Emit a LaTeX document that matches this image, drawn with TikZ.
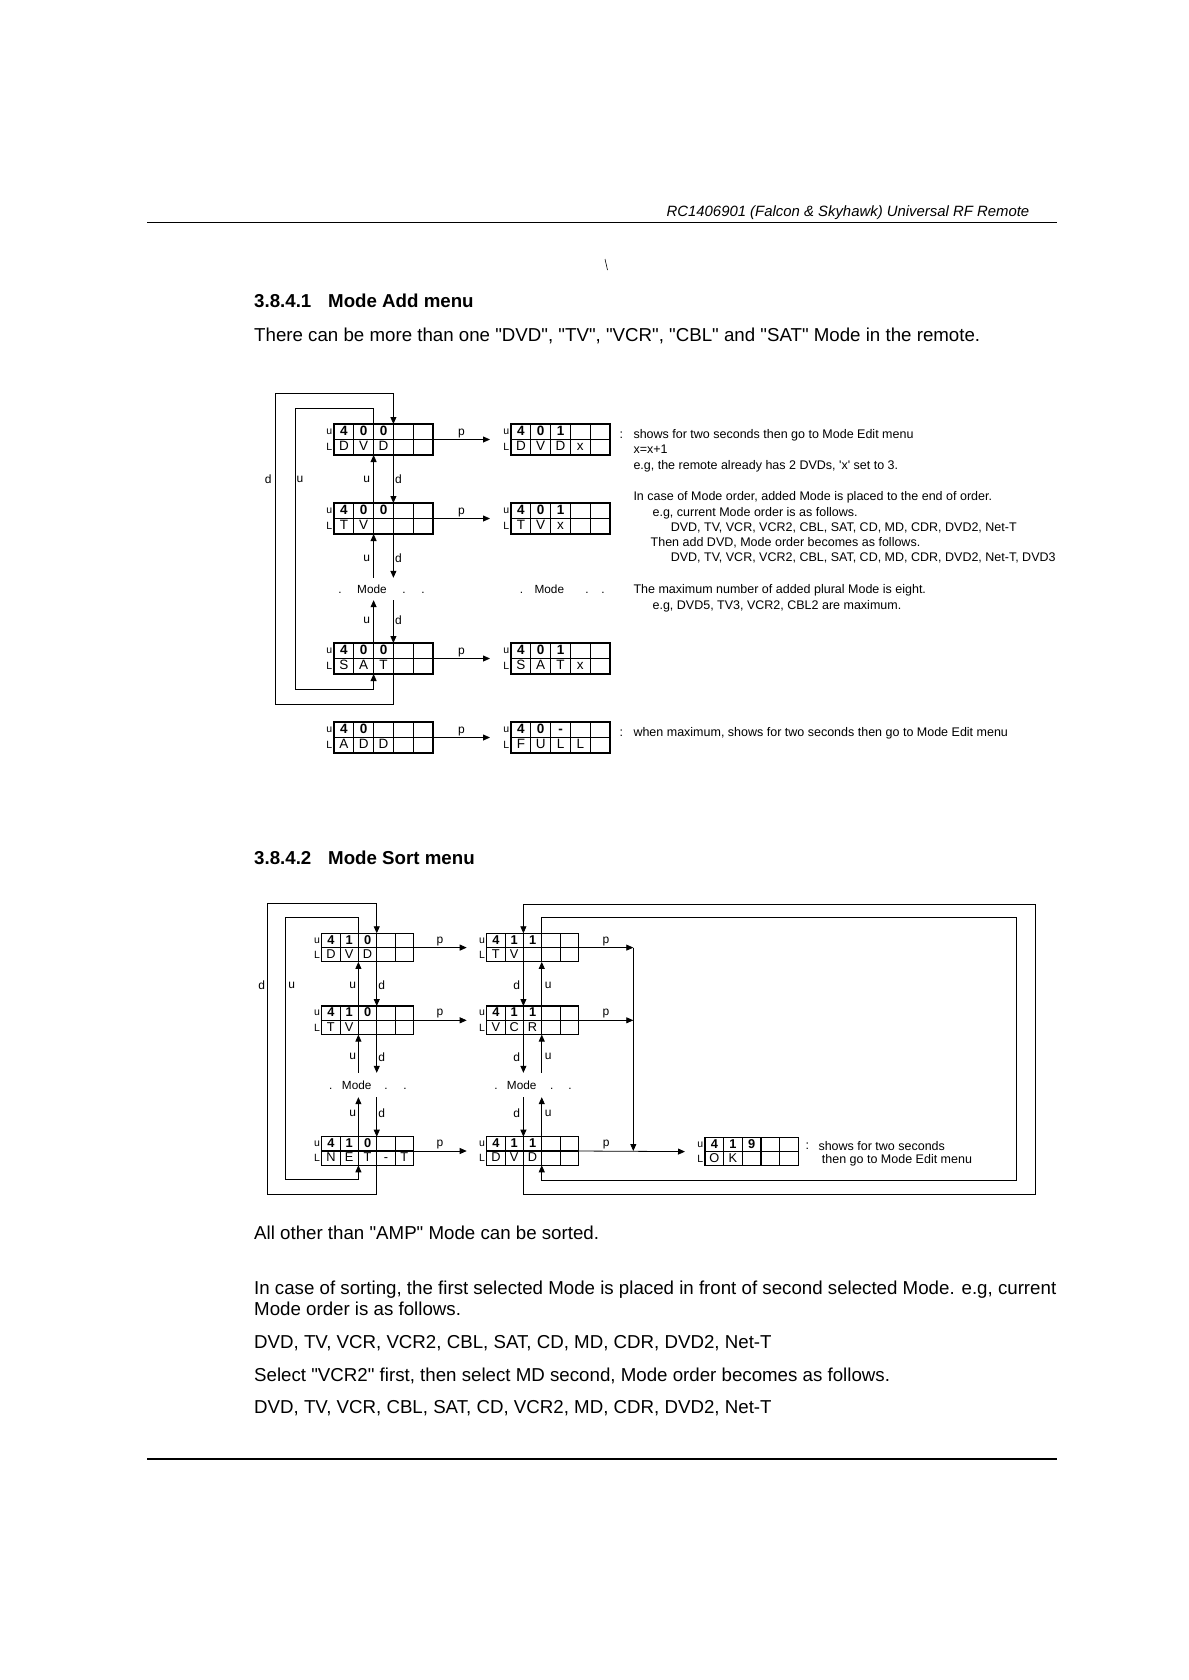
\documentclass[tikz,border=0pt]{standalone}
\usepackage{fontspec}
\newfontfamily\lib{Liberation Sans}
\usetikzlibrary{arrows.meta,calc}
\newcommand\fsz[1]{\lib\fontsize{#1}{#1}\selectfont}
\newcommand\celfb{\fsz{13.5}\bfseries}
\newcommand\celfr{\fsz{13.5}}
% name, x, y(top), cell width, cell height, top row list, bottom row list
\newcommand\cellbox[7]{%
  \node[frm, minimum width={5*#4}, minimum height={2*#5}, anchor=north west] (#1) at (#2,#3) {};
  \foreach \cc [count=\ii] in {#6}{%
    \node[cel, font=\celfb, minimum width={#4}, minimum height={#5}] (#1-1-\ii) at ({#2+(\ii-0.5)*#4},{#3+0.5*#5}) {\cc};
  }%
  \foreach \cc [count=\ii] in {#7}{%
    \node[cel, font=\celfr, minimum width={#4}, minimum height={#5}] (#1-2-\ii) at ({#2+(\ii-0.5)*#4},{#3+1.5*#5}) {\cc};
  }%
  \node[rowlab] (#1-u) at ($(#1-1-1.west)+(-1.5,0)$) {u};
  \node[rowlab] (#1-l) at ($(#1-2-1.west)+(-1.5,0)$) {L};
}
\begin{document}
\begin{tikzpicture}[x=1pt,y=-1pt,
  conn/.style={line width=0.8pt, draw=black},
  arr/.style={conn, -{Triangle[length=7pt,width=6pt]}},
  cel/.style={draw, line width=1.1pt, inner sep=0pt, outer sep=0pt, text height=0.72em, text depth=0pt},
  frm/.style={inner sep=0pt, outer sep=0pt},
  rowlab/.style={inner sep=0pt, font=\fsz{10.5}, anchor=east},
  lab/.style={inner sep=0pt, font=\fsz{12}},
  plab/.style={inner sep=1.5pt, above, font=\fsz{12}},
  modetxt/.style={inner sep=0pt, font=\fsz{11.8}, text height=9pt, text depth=0pt, minimum height=22pt},
  txt/.style={anchor=base west, inner sep=0pt, font=\fsz{12.5}},
  body/.style={anchor=base west, inner sep=0pt, font=\fsz{18.7}},
  head/.style={anchor=base west, inner sep=0pt, font=\fsz{18.7}\bfseries},
]
\useasboundingbox (0,0) rectangle (1188,1680);
\fill[white] (0,0) rectangle (1188,1680);

% ---------- page header / footer ----------
\node[anchor=base east, inner sep=0pt, font=\fsz{14.9}\itshape] (hdr) at (1029.5,216.4)
  {RC1406901 (Falcon \& Skyhawk) Universal RF Remote};
\draw[line width=1.4pt] (147,222.8) -- (1057,222.8);
\draw[line width=1.4pt] (147,1459) -- (1057,1459);
\draw[line width=0.6pt] (605,259) -- (607.5,270);

% ---------- section 3.8.4.1 ----------
\node[head] (h1) at (254,307.7) {3.8.4.1\hspace{0.9em}Mode Add menu};
\node[body] (b1) at (254,341.7) {There can be more than one "DVD", "TV", "VCR", "CBL" and "SAT" Mode in the remote.};

\cellbox{A1}{334}{424}{19.8}{15.5}{4,0,0,{},{}}{D,V,D,{},{}}
\cellbox{A2}{334}{503}{19.8}{15.5}{4,0,0,{},{}}{T,V,{},{},{}}
\cellbox{A3}{334}{643}{19.8}{15.5}{4,0,0,{},{}}{S,A,T,{},{}}
\cellbox{A4}{334}{722}{19.8}{15.5}{4,0,{},{},{}}{A,D,D,{},{}}
\cellbox{B1}{511}{424}{19.8}{15.5}{4,0,1,{},{}}{D,V,D,x,{}}
\cellbox{B2}{511}{503}{19.8}{15.5}{4,0,1,{},{}}{T,V,x,{},{}}
\cellbox{B3}{511}{643}{19.8}{15.5}{4,0,1,{},{}}{S,A,T,x,{}}
\cellbox{B4}{511}{722}{19.8}{15.5}{4,0,-,{},{}}{F,U,L,L,{}}

\node[modetxt] (mA) at (372,589) {Mode};
\node[modetxt] (mAd1) at (340,589) {.};
\node[modetxt] (mAd2) at (404,589) {.};
\node[modetxt] (mAd3) at (423,589) {.};
\node[modetxt] (mB) at (549.3,589) {Mode};
\node[modetxt] (mBd1) at (521.5,589) {.};
\node[modetxt] (mBd2) at (587,589) {.};
\node[modetxt] (mBd3) at (603,589) {.};

% vertical u/d arrows
\draw[arr] (A1-2-3.south east) -- (A2-1-3.north east);
\draw[arr] (A2-1-2.north east) -- (A1-2-2.south east);
\draw[arr] (A2-2-3.south east) -- (A2-2-3.south east |- mA.north);
\draw[arr] (A2-2-2.south east |- mA.north) -- (A2-2-2.south east);
\draw[arr] (A3-1-3.north east |- mA.south) -- (A3-1-3.north east);
\draw[arr] (A3-1-2.north east) -- (A3-1-2.north east |- mA.south);
% wrap-around loops
\coordinate (aoTL) at (275,393);
\coordinate (aoBL) at (275,704);
\coordinate (aiTL) at (295,408);
\coordinate (aiBL) at (295,689);
\draw[arr] (A3-2-3.south east) |- (aoBL) -- (aoTL) -| (A1-1-3.north east);
\draw[arr] (A1-1-2.north east) |- (aiTL) -- (aiBL) -| (A3-2-2.south east);
% p arrows
\draw[arr] (A1.east) -- node[plab] (pA1) {p} ([xshift=-21pt]B1.west);
\draw[arr] (A2.east) -- node[plab] (pA2) {p} ([xshift=-21pt]B2.west);
\draw[arr] (A3.east) -- node[plab] (pA3) {p} ([xshift=-21pt]B3.west);
\draw[arr] (A4.east) -- node[plab] (pA4) {p} ([xshift=-21pt]B4.west);
% labels
\node[lab] (lA0) at (268.3,479) {d};
\node[lab] (lA00) at (300,479) {u};
\node[lab] (lA1) at (366.7,479) {u};
\node[lab] (lA2) at (398.5,479) {d};
\node[lab] (lA3) at (366.7,558) {u};
\node[lab] (lA4) at (398.5,558) {d};
\node[lab] (lA5) at (366.7,620) {u};
\node[lab] (lA6) at (398.5,620) {d};

% right notes
\node[txt, anchor=base] (c1) at (621.3,438.2) {:};
\node[txt] (n1) at (633.3,438.2) {shows for two seconds then go to Mode Edit menu};
\node[txt] (n2) at (633.3,453.2) {x=x+1};
\node[txt] (n3) at (633.3,469.3) {e.g, the remote already has 2 DVDs, \textquotesingle x\textquotesingle\ set to 3.};
\node[txt] (n4) at (633.3,500.4) {In case of Mode order, added Mode is placed to the end of order.};
\node[txt] (n5) at (652.4,516.4) {e.g, current Mode order is as follows.};
\node[txt] (n6) at (670.6,531.4) {DVD, TV, VCR, VCR2, CBL, SAT, CD, MD, CDR, DVD2, Net-T};
\node[txt] (n7) at (650.5,546.4) {Then add DVD, Mode order becomes as follows.};
\node[txt] (n8) at (670.6,561.4) {DVD, TV, VCR, VCR2, CBL, SAT, CD, MD, CDR, DVD2, Net-T, DVD3};
\node[txt] (n9) at (633.3,593.4) {The maximum number of added plural Mode is eight.};
\node[txt] (n10) at (652.4,609.4) {e.g, DVD5, TV3, VCR2, CBL2 are maximum.};
\node[txt, anchor=base] (c2) at (621.3,736) {:};
\node[txt] (n11) at (633.3,736) {when maximum, shows for two seconds then go to Mode Edit menu};

% ---------- section 3.8.4.2 ----------
\node[head] (h2) at (254,864.7) {3.8.4.2\hspace{0.9em}Mode Sort menu};
\renewcommand\celfb{\fsz{12.8}\bfseries}
\renewcommand\celfr{\fsz{12.8}}
\cellbox{C1}{321.7}{933.3}{18.35}{14.3}{4,1,0,{},{}}{D,V,D,{},{}}
\cellbox{C2}{321.7}{1006}{18.35}{14.3}{4,1,0,{},{}}{T,V,{},{},{}}
\cellbox{C3}{321.7}{1136.7}{18.35}{14.3}{4,1,0,{},{}}{N,E,T,-,T}
\cellbox{D1}{486.7}{933.3}{18.35}{14.3}{4,1,1,{},{}}{T,V,{},{},{}}
\cellbox{D2}{486.7}{1006}{18.35}{14.3}{4,1,1,{},{}}{V,C,R,{},{}}
\cellbox{D3}{486.7}{1136.7}{18.35}{14.3}{4,1,1,{},{}}{D,V,D,{},{}}
\cellbox{E1}{705}{1137.3}{18.66}{14.3}{4,1,9,{},{}}{O,K,{},{},{}}

\node[modetxt, minimum height=24pt] (mC) at (356.7,1085) {Mode};
\node[modetxt] (mCd1) at (330.7,1085) {.};
\node[modetxt] (mCd2) at (386,1085) {.};
\node[modetxt] (mCd3) at (405,1085) {.};
\node[modetxt, minimum height=24pt] (mD) at (521.7,1085) {Mode};
\node[modetxt] (mDd1) at (496,1085) {.};
\node[modetxt] (mDd2) at (551.7,1085) {.};
\node[modetxt] (mDd3) at (570,1085) {.};

% left column arrows
\draw[arr] (C1-2-3.south east) -- (C2-1-3.north east);
\draw[arr] (C2-1-2.north east) -- (C1-2-2.south east);
\draw[arr] (C2-2-3.south east) -- (C2-2-3.south east |- mC.north);
\draw[arr] (C2-2-2.south east |- mC.north) -- (C2-2-2.south east);
\draw[arr] (C3-1-3.north east |- mC.south) -- (C3-1-3.north east);
\draw[arr] (C3-1-2.north east) -- (C3-1-2.north east |- mC.south);
\coordinate (coTL) at (267.3,903.3);
\coordinate (coBL) at (267.3,1194.3);
\coordinate (ciTL) at (285,917.7);
\coordinate (ciBL) at (285,1179.3);
\draw[arr] (C3-2-3.south east) |- (coBL) -- (coTL) -| (C1-1-3.north east);
\draw[arr] (C1-1-2.north east) |- (ciTL) -- (ciBL) -| (C3-2-2.south east);

% right column arrows
\draw[arr] (D1-2-2.south east) -- (D2-1-2.north east);
\draw[arr] (D2-1-3.north east) -- (D1-2-3.south east);
\draw[arr] (D2-2-2.south east) -- (D2-2-2.south east |- mD.north);
\draw[arr] (D2-2-3.south east |- mD.north) -- (D2-2-3.south east);
\draw[arr] (D3-1-2.north east |- mD.south) -- (D3-1-2.north east);
\draw[arr] (D3-1-3.north east) -- (D3-1-3.north east |- mD.south);
\coordinate (doBR) at (1035,1194.3);
\coordinate (doTR) at (1035,904);
\coordinate (diTR) at (1016.7,917.7);
\coordinate (diBR) at (1016.7,1180);
\draw[arr] (D3-2-2.south east) |- (doBR) -- (doTR) -| (D1-1-2.north east);
\draw[arr] (D1-1-3.north east) |- (diTR) -- (diBR) -| (D3-2-3.south east);

% p arrows
\draw[arr] (C1.east) -- node[plab] (pC1) {p} ([xshift=-20pt]D1.west);
\draw[arr] (C2.east) -- node[plab] (pC2) {p} ([xshift=-20pt]D2.west);
\draw[arr] (C3.east) -- node[plab] (pC3) {p} ([xshift=-20pt]D3.west);
\coordinate (pvx) at (633.3,0);
\draw[arr] (D1.east) -- node[plab] (pD1) {p} (D1.east -| pvx);
\draw[arr] (D2.east) -- node[plab] (pD2) {p} (D2.east -| pvx);
\draw[arr] (D1.east -| pvx) -- (D3.east -| pvx);
\draw[arr] (D3.east) -- node[plab, pos=0.26] (pD3) {p} ([xshift=-20pt]E1.west);

% labels
\node[lab] (lC0) at (261.7,985) {d};
\node[lab] (lC00) at (291.7,985) {u};
\node[lab] (lC1) at (352.7,985) {u};
\node[lab] (lC2) at (381.7,985) {d};
\node[lab] (lC3) at (352.7,1056.7) {u};
\node[lab] (lC4) at (381.7,1056.7) {d};
\node[lab] (lC5) at (352.7,1113.3) {u};
\node[lab] (lC6) at (381.7,1113.3) {d};
\node[lab] (lD1) at (516.7,985) {d};
\node[lab] (lD2) at (548.3,985) {u};
\node[lab] (lD3) at (516.7,1056.7) {d};
\node[lab] (lD4) at (548.3,1056.7) {u};
\node[lab] (lD5) at (516.7,1113.3) {d};
\node[lab] (lD6) at (548.3,1113.3) {u};

\node[txt, anchor=base] (c3) at (807.3,1149.4) {:};
\node[txt] (n12) at (818.3,1150.4) {shows for two seconds};
\node[txt] (n13) at (821.7,1163.7) {then go to Mode Edit menu};

% ---------- bottom paragraphs ----------
\node[body] (b2) at (254,1239.7) {All other than "AMP" Mode can be sorted.};
\node[body] (b3) at (254,1294.3) {In case of sorting, the first selected Mode is placed in front of second selected Mode. e.g, current};
\node[body] (b4) at (254,1315.7) {Mode order is as follows.};
\node[body] (b5) at (254,1348.7) {DVD, TV, VCR, VCR2, CBL, SAT, CD, MD, CDR, DVD2, Net-T};
\node[body] (b6) at (254,1381.1) {Select "VCR2" first, then select MD second, Mode order becomes as follows.};
\node[body] (b7) at (254,1413.2) {DVD, TV, VCR, CBL, SAT, CD, VCR2, MD, CDR, DVD2, Net-T};
\end{tikzpicture}
\end{document}
